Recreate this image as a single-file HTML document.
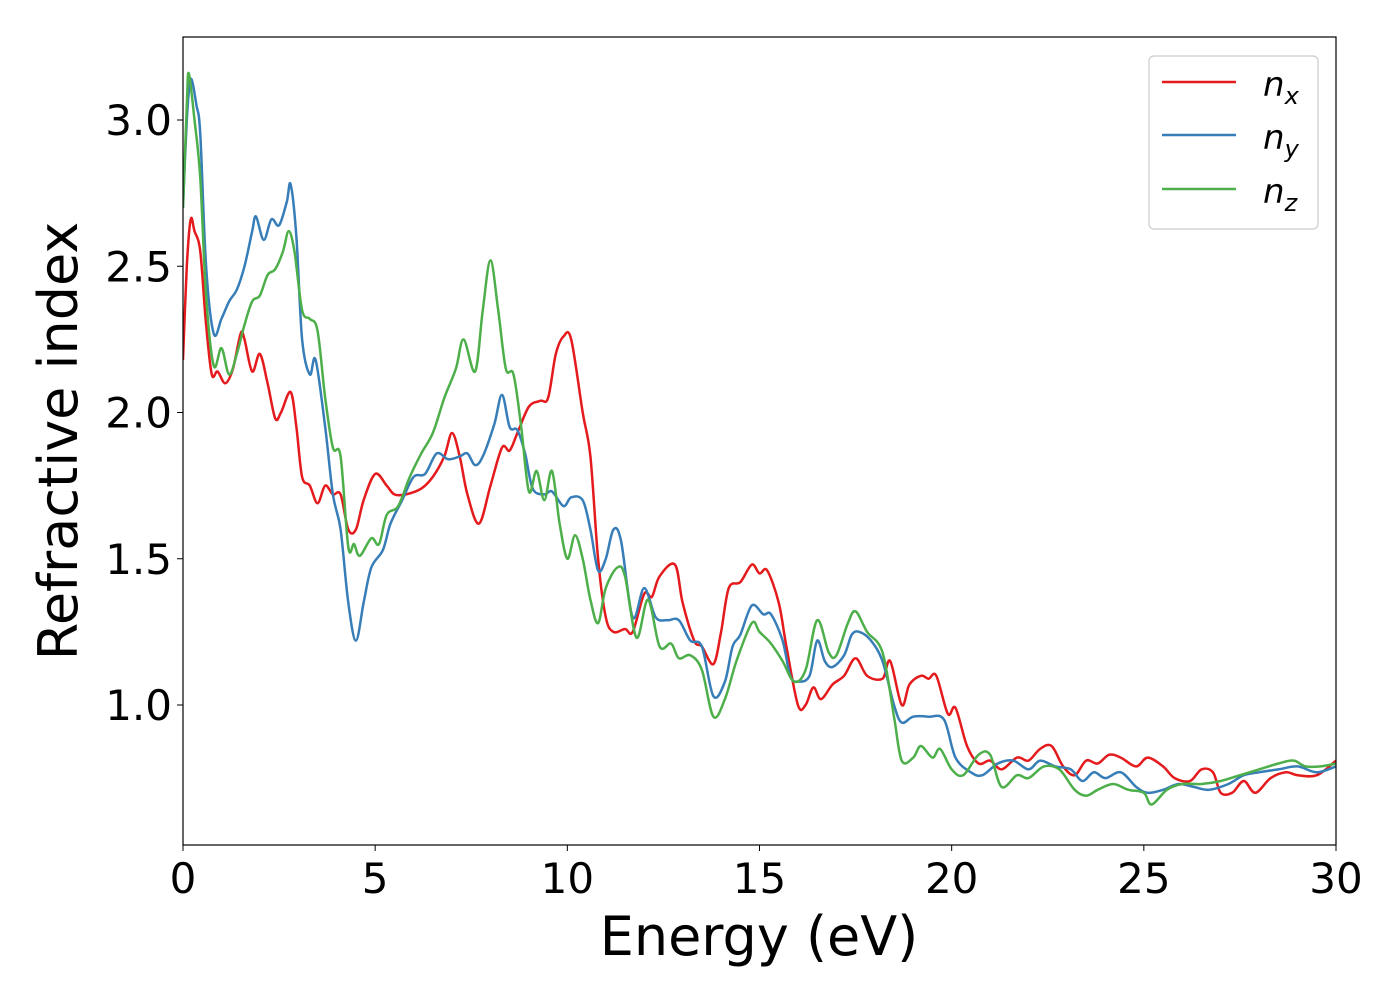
<!DOCTYPE html>
<html><head><meta charset="utf-8"><style>
body{margin:0;background:#fff;}
svg text{font-family:"DejaVu Sans","Liberation Sans",sans-serif;fill:#000;}
</style></head><body>
<svg id="chart" width="1400" height="1000">
<rect x="0" y="0" width="1400" height="1000" fill="#fff"/>
<g id="series"></g>
<rect x="183" y="37" width="1153" height="808" fill="none" stroke="#000" stroke-width="1.2"/>
<g id="ticks"></g>
<text x="759" y="955" font-size="54" text-anchor="middle">Energy (eV)</text>
<text transform="translate(77,441) rotate(-90)" font-size="54" text-anchor="middle">Refractive index</text>
<g>
<rect x="1149" y="56" width="169" height="173" rx="5" fill="#fff" stroke="#ccc" stroke-width="1.2"/>
<line x1="1162" y1="82" x2="1236" y2="82" stroke="#e41a1c" stroke-width="2.5"/>
<text x="1263" y="96" font-size="34" font-style="italic">n<tspan font-size="24" dy="8">x</tspan></text>
<line x1="1162" y1="135" x2="1236" y2="135" stroke="#377eb8" stroke-width="2.5"/>
<text x="1263" y="149" font-size="34" font-style="italic">n<tspan font-size="24" dy="8">y</tspan></text>
<line x1="1162" y1="189" x2="1236" y2="189" stroke="#4daf4a" stroke-width="2.5"/>
<text x="1263" y="203" font-size="34" font-style="italic">n<tspan font-size="24" dy="8">z</tspan></text>
</g>
</svg>
<script>
const xTicks=[0,5,10,15,20,25,30];
const yTicks=[1.0,1.5,2.0,2.5,3.0];
const yTickLabels=["1.0","1.5","2.0","2.5","3.0"];
const nxE=[0,0.1,0.2,0.3,0.45,0.6,0.75,0.9,1.1,1.3,1.5,1.6,1.8,2.0,2.2,2.4,2.55,2.8,2.95,3.1,3.3,3.5,3.7,3.9,4.1,4.3,4.5,4.7,5.0,5.3,5.5,5.8,6.2,6.5,6.8,7.0,7.2,7.4,7.7,8.0,8.3,8.5,8.7,9.0,9.3,9.5,9.7,9.9,10.1,10.4,10.6,10.8,11.0,11.2,11.5,11.7,12.0,12.2,12.4,12.8,13.0,13.3,13.5,13.8,14.0,14.2,14.5,14.8,15.0,15.2,15.5,15.7,16.0,16.2,16.4,16.6,16.9,17.2,17.5,17.8,18.2,18.4,18.7,18.9,19.2,19.4,19.6,19.9,20.1,20.4,20.7,21.0,21.3,21.7,22.0,22.3,22.6,22.9,23.2,23.5,23.8,24.1,24.4,24.8,25.1,25.5,25.8,26.2,26.5,26.8,27.0,27.3,27.6,27.9,28.3,28.7,29.0,29.5,30];
const nxV=[2.18,2.5,2.66,2.62,2.55,2.3,2.13,2.14,2.1,2.15,2.27,2.25,2.14,2.2,2.1,1.98,2.0,2.07,1.95,1.78,1.75,1.69,1.75,1.72,1.72,1.6,1.6,1.7,1.79,1.75,1.72,1.72,1.74,1.78,1.85,1.93,1.85,1.72,1.62,1.75,1.88,1.87,1.93,2.02,2.04,2.05,2.2,2.26,2.25,2.0,1.85,1.5,1.3,1.25,1.26,1.25,1.38,1.37,1.44,1.48,1.35,1.22,1.2,1.14,1.25,1.4,1.42,1.48,1.45,1.46,1.35,1.2,1.0,1.0,1.06,1.02,1.07,1.1,1.16,1.1,1.09,1.15,1.0,1.07,1.1,1.09,1.1,0.97,0.99,0.86,0.8,0.81,0.78,0.82,0.81,0.85,0.86,0.79,0.76,0.81,0.8,0.83,0.82,0.79,0.82,0.79,0.75,0.74,0.78,0.77,0.7,0.7,0.74,0.7,0.75,0.77,0.76,0.76,0.81];
const nyE=[0,0.1,0.2,0.35,0.45,0.6,0.8,1.0,1.2,1.4,1.6,1.8,1.9,2.1,2.3,2.5,2.7,2.8,2.95,3.1,3.3,3.45,3.7,3.9,4.1,4.3,4.5,4.7,4.9,5.2,5.4,5.7,6.0,6.3,6.6,6.9,7.2,7.4,7.6,7.8,8.1,8.3,8.5,8.7,8.9,9.1,9.4,9.6,9.9,10.1,10.4,10.6,10.8,11.0,11.2,11.4,11.7,12.0,12.3,12.6,12.9,13.2,13.5,13.8,14.1,14.3,14.5,14.8,15.1,15.3,15.6,15.8,16.0,16.3,16.5,16.7,16.9,17.2,17.4,17.6,17.9,18.2,18.5,18.7,19.0,19.4,19.8,20.1,20.5,20.8,21.2,21.6,22.0,22.3,22.7,23.1,23.4,23.7,24.0,24.4,24.8,25.1,25.5,25.9,26.3,26.7,27.2,27.6,28.0,28.5,29.0,29.5,30];
const nyV=[2.7,3.0,3.14,3.05,2.95,2.5,2.27,2.32,2.38,2.42,2.5,2.62,2.67,2.59,2.66,2.64,2.72,2.78,2.6,2.25,2.13,2.18,1.95,1.72,1.6,1.35,1.22,1.35,1.47,1.53,1.62,1.7,1.78,1.79,1.86,1.84,1.85,1.86,1.82,1.85,1.96,2.06,1.95,1.94,1.86,1.74,1.72,1.73,1.68,1.71,1.7,1.6,1.46,1.5,1.6,1.56,1.3,1.4,1.3,1.29,1.29,1.22,1.2,1.03,1.08,1.2,1.24,1.34,1.31,1.31,1.22,1.1,1.08,1.1,1.22,1.15,1.13,1.17,1.24,1.25,1.22,1.15,1.0,0.94,0.96,0.96,0.95,0.82,0.77,0.76,0.8,0.81,0.78,0.81,0.79,0.78,0.74,0.77,0.75,0.77,0.72,0.7,0.71,0.73,0.72,0.71,0.73,0.76,0.77,0.78,0.79,0.77,0.79];
const nzE=[0,0.1,0.15,0.3,0.45,0.6,0.8,1.0,1.2,1.4,1.6,1.8,2.0,2.2,2.4,2.6,2.75,2.9,3.1,3.3,3.5,3.7,3.9,4.1,4.3,4.45,4.6,4.9,5.1,5.3,5.6,5.9,6.2,6.5,6.8,7.1,7.3,7.6,7.8,8.0,8.2,8.4,8.6,8.8,9.0,9.2,9.4,9.6,9.8,10.0,10.2,10.4,10.6,10.8,11.0,11.3,11.5,11.8,12.1,12.4,12.7,12.9,13.2,13.5,13.8,14.1,14.4,14.8,15.0,15.3,15.6,15.9,16.2,16.5,16.8,17.0,17.3,17.5,17.8,18.2,18.5,18.7,19.0,19.2,19.5,19.7,20.0,20.3,20.7,21.0,21.3,21.7,22.0,22.4,22.8,23.2,23.5,23.8,24.2,24.6,25.0,25.2,25.6,26.0,26.5,27.0,27.5,28.0,28.5,28.9,29.2,29.6,30];
const nzV=[2.7,3.05,3.16,3.0,2.8,2.4,2.16,2.22,2.13,2.2,2.3,2.38,2.4,2.47,2.49,2.55,2.62,2.55,2.35,2.32,2.28,2.05,1.88,1.85,1.54,1.55,1.51,1.57,1.55,1.65,1.68,1.78,1.86,1.93,2.05,2.15,2.25,2.14,2.35,2.52,2.35,2.15,2.13,1.95,1.73,1.8,1.7,1.8,1.62,1.5,1.58,1.5,1.36,1.28,1.4,1.47,1.44,1.23,1.36,1.2,1.21,1.16,1.17,1.12,0.96,1.02,1.15,1.28,1.25,1.21,1.15,1.08,1.12,1.29,1.18,1.17,1.28,1.32,1.25,1.18,0.96,0.81,0.82,0.86,0.82,0.85,0.78,0.76,0.83,0.83,0.72,0.76,0.75,0.79,0.78,0.71,0.69,0.71,0.73,0.71,0.70,0.66,0.71,0.73,0.73,0.74,0.76,0.78,0.80,0.81,0.79,0.79,0.8];

const NS='http://www.w3.org/2000/svg';
const X0=183,X1=1336,Y3=120,Y1=705;
function xs(e){return X0+(e-0)/(30-0)*(X1-X0);}
function ys(v){return Y1-(v-1)*(Y1-Y3)/2;}
function smoothPath(E,V){
  const p=E.map((e,i)=>[xs(e),ys(V[i])]);
  let d='M'+p[0][0].toFixed(1)+','+p[0][1].toFixed(1);
  for(let i=0;i<p.length-1;i++){
    const a=p[Math.max(0,i-1)],b=p[i],c=p[i+1],n=p[Math.min(p.length-1,i+2)];
    const c1=[b[0]+(c[0]-a[0])/6,b[1]+(c[1]-a[1])/6];
    const c2=[c[0]-(n[0]-b[0])/6,c[1]-(n[1]-b[1])/6];
    d+=' C'+c1.map(v=>v.toFixed(1)).join(',')+' '+c2.map(v=>v.toFixed(1)).join(',')+' '+c[0].toFixed(1)+','+c[1].toFixed(1);
  }
  return d;
}
const sg=document.getElementById('series');
const cp=document.createElementNS(NS,'clipPath');cp.setAttribute('id','clip');
const cr=document.createElementNS(NS,'rect');cr.setAttribute('x',X0);cr.setAttribute('y',37);cr.setAttribute('width',X1-X0);cr.setAttribute('height',808);
cp.appendChild(cr);sg.appendChild(cp);
[[nxE,nxV,'#e41a1c','series-nx'],[nyE,nyV,'#377eb8','series-ny'],[nzE,nzV,'#4daf4a','series-nz']].forEach(s=>{
  const p=document.createElementNS(NS,'path');
  p.setAttribute('d',smoothPath(s[0],s[1]));
  p.setAttribute('fill','none');p.setAttribute('stroke',s[2]);p.setAttribute('stroke-width','2.5');
  p.setAttribute('stroke-linejoin','round');p.setAttribute('clip-path','url(#clip)');
  
  
  sg.appendChild(p);
});
const tg=document.getElementById('ticks');
xTicks.forEach(t=>{
  const l=document.createElementNS(NS,'line');
  l.setAttribute('x1',xs(t));l.setAttribute('x2',xs(t));l.setAttribute('y1',845);l.setAttribute('y2',851);l.setAttribute('stroke','#000');
  
  
  tg.appendChild(l);
  const tx=document.createElementNS(NS,'text');
  tx.setAttribute('x',xs(t));tx.setAttribute('y',893);tx.setAttribute('font-size','42');tx.setAttribute('text-anchor','middle');
  tx.textContent=String(t);
  
  
  tg.appendChild(tx);
});
yTicks.forEach((t,i)=>{
  const l=document.createElementNS(NS,'line');
  l.setAttribute('x1',177);l.setAttribute('x2',183);l.setAttribute('y1',ys(t));l.setAttribute('y2',ys(t));l.setAttribute('stroke','#000');
  
  
  tg.appendChild(l);
  const tx=document.createElementNS(NS,'text');
  tx.setAttribute('x',172);tx.setAttribute('y',ys(t)+15);tx.setAttribute('font-size','42');tx.setAttribute('text-anchor','end');
  tx.textContent=yTickLabels[i];
  
  
  tg.appendChild(tx);
});
</script>
</body></html>
